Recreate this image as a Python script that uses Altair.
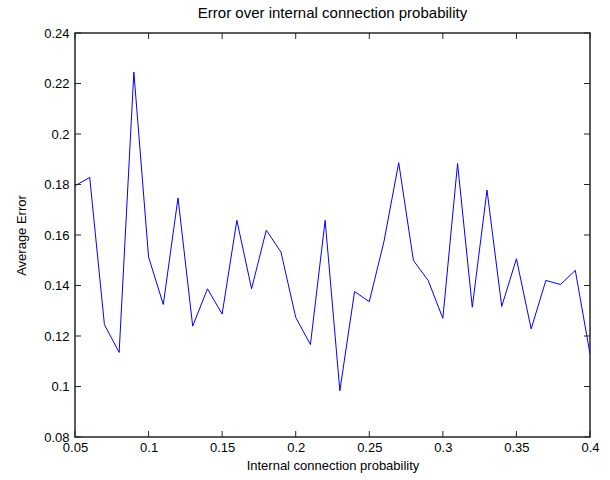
import altair as alt
import pandas as pd

# Internal connection probability and the average error measured at each step
prob = [0.05, 0.06, 0.07, 0.08, 0.09, 0.10, 0.11, 0.12, 0.13, 0.14, 0.15, 0.16,
        0.17, 0.18, 0.19, 0.20, 0.21, 0.22, 0.23, 0.24, 0.25, 0.26, 0.27, 0.28,
        0.29, 0.30, 0.31, 0.32, 0.33, 0.34, 0.35, 0.36, 0.37, 0.38, 0.39, 0.40]
avg_error = [0.1795, 0.1828, 0.1245, 0.1135, 0.2245, 0.1513, 0.1325, 0.1747,
             0.1239, 0.1387, 0.1287, 0.1658, 0.1387, 0.1619, 0.1532, 0.1274,
             0.1166, 0.1658, 0.0983, 0.1376, 0.1336, 0.1575, 0.1886, 0.1499,
             0.1420, 0.1270, 0.1883, 0.1314, 0.1778, 0.1317, 0.1506, 0.1228,
             0.1420, 0.1404, 0.1460, 0.1129]

x_ticks = [0.05, 0.1, 0.15, 0.2, 0.25, 0.3, 0.35, 0.4]
y_ticks = [0.08, 0.1, 0.12, 0.14, 0.16, 0.18, 0.2, 0.22, 0.24]

W, H = 515, 404
TICK = 6
FONT = "Liberation Sans"
AXIS_COLOR = "#262626"

df = pd.DataFrame({"p": prob, "err": avg_error})
xt = pd.DataFrame({"v": x_ticks})
yt = pd.DataFrame({"v": y_ticks})

x_scale = alt.Scale(domain=[0.05, 0.4], nice=False, zero=False)
y_scale = alt.Scale(domain=[0.08, 0.24], nice=False, zero=False)

line = alt.Chart(df).mark_line(color="#0000ff", strokeWidth=1, clip=True).encode(
    x=alt.X("p:Q", scale=x_scale,
            title="Internal connection probability",
            axis=alt.Axis(values=x_ticks, format="~g", ticks=False, grid=False,
                          domain=False, labelFlush=False, labelPadding=4,
                          titlePadding=5)),
    y=alt.Y("err:Q", scale=y_scale, title="Average Error",
            axis=alt.Axis(values=y_ticks, format="~g", ticks=False, grid=False,
                          domain=False, labelFlush=False, labelPadding=6,
                          titlePadding=15)),
)

# Inward tick marks on all four sides of the box
x_bottom = alt.Chart(xt).mark_rule(color=AXIS_COLOR, strokeWidth=1).encode(
    x=alt.X("v:Q", scale=x_scale), y=alt.value(H), y2=alt.value(H - TICK))
x_top = alt.Chart(xt).mark_rule(color=AXIS_COLOR, strokeWidth=1).encode(
    x=alt.X("v:Q", scale=x_scale), y=alt.value(0), y2=alt.value(TICK))
y_left = alt.Chart(yt).mark_rule(color=AXIS_COLOR, strokeWidth=1).encode(
    y=alt.Y("v:Q", scale=y_scale), x=alt.value(0), x2=alt.value(TICK))
y_right = alt.Chart(yt).mark_rule(color=AXIS_COLOR, strokeWidth=1).encode(
    y=alt.Y("v:Q", scale=y_scale), x=alt.value(W), x2=alt.value(W - TICK))

chart = alt.layer(line, x_bottom, x_top, y_left, y_right).properties(
    width=W, height=H,
    title=alt.Title("Error over internal connection probability",
                    font=FONT, fontSize=15, fontWeight="normal",
                    color="#000000", offset=6),
    autosize=alt.AutoSizeParams(type="none"),
    padding={"left": 75, "top": 33, "right": 20, "bottom": 43},
    background="#ffffff",
).configure_view(
    stroke=AXIS_COLOR, strokeWidth=1.5
).configure_axis(
    labelFont=FONT, labelFontSize=13, labelColor="#000000",
    titleFont=FONT, titleFontSize=13, titleFontWeight="normal", titleColor="#000000",
)

chart.save("out.html", embed_options={"renderer": "svg", "actions": False})
